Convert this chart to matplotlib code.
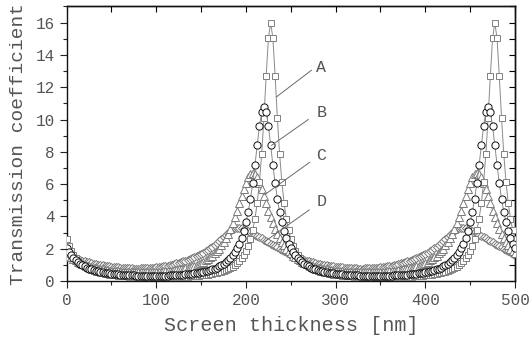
"""
Transmission coefficient vs. screen thickness for four screens (A-D).
Periodic resonances, period ~250 nm.
"""

import numpy as np
import matplotlib
matplotlib.use("Agg")
import matplotlib.pyplot as plt
from matplotlib.ticker import MultipleLocator

# screen thickness grid [nm]
thickness = np.arange(0, 500.1, 2.5)

trans_a = [
    2.61, 2.19, 1.87, 1.61, 1.40, 1.23, 1.10, 0.98, 0.88, 0.80,
    0.73, 0.67, 0.62, 0.58, 0.54, 0.50, 0.47, 0.44, 0.42, 0.40,
    0.38, 0.36, 0.35, 0.33, 0.32, 0.31, 0.30, 0.29, 0.28, 0.28,
    0.27, 0.26, 0.26, 0.25, 0.25, 0.25, 0.25, 0.24, 0.24, 0.24,
    0.24, 0.24, 0.24, 0.24, 0.24, 0.24, 0.25, 0.25, 0.25, 0.25,
    0.26, 0.26, 0.27, 0.28, 0.28, 0.29, 0.30, 0.31, 0.32, 0.33,
    0.35, 0.36, 0.38, 0.40, 0.42, 0.44, 0.47, 0.50, 0.54, 0.58,
    0.62, 0.67, 0.73, 0.80, 0.88, 0.98, 1.10, 1.23, 1.40, 1.61,
    1.87, 2.19, 2.61, 3.15, 3.86, 4.82, 6.12, 7.86, 10.10, 12.70,
    15.02, 16.00, 15.02, 12.70, 10.10, 7.86, 6.12, 4.82, 3.86, 3.15,
    2.61, 2.19, 1.87, 1.61, 1.40, 1.23, 1.10, 0.98, 0.88, 0.80,
    0.73, 0.67, 0.62, 0.58, 0.54, 0.50, 0.47, 0.44, 0.42, 0.40,
    0.38, 0.36, 0.35, 0.33, 0.32, 0.31, 0.30, 0.29, 0.28, 0.28,
    0.27, 0.26, 0.26, 0.25, 0.25, 0.25, 0.25, 0.24, 0.24, 0.24,
    0.24, 0.24, 0.24, 0.24, 0.24, 0.24, 0.25, 0.25, 0.25, 0.25,
    0.26, 0.26, 0.27, 0.28, 0.28, 0.29, 0.30, 0.31, 0.32, 0.33,
    0.35, 0.36, 0.38, 0.40, 0.42, 0.44, 0.47, 0.50, 0.54, 0.58,
    0.62, 0.67, 0.73, 0.80, 0.88, 0.98, 1.10, 1.23, 1.40, 1.61,
    1.87, 2.19, 2.61, 3.15, 3.86, 4.82, 6.12, 7.86, 10.10, 12.70,
    15.02, 16.00, 15.02, 12.70, 10.10, 7.86, 6.12, 4.82, 3.86, 3.15,
    2.61,
]

trans_b = [
    2.02, 1.79, 1.59, 1.42, 1.28, 1.16, 1.06, 0.97, 0.90, 0.83,
    0.77, 0.72, 0.68, 0.64, 0.60, 0.57, 0.54, 0.52, 0.49, 0.47,
    0.45, 0.44, 0.42, 0.41, 0.40, 0.39, 0.38, 0.37, 0.36, 0.35,
    0.35, 0.34, 0.34, 0.34, 0.33, 0.33, 0.33, 0.33, 0.33, 0.33,
    0.33, 0.33, 0.33, 0.34, 0.34, 0.34, 0.35, 0.35, 0.36, 0.37,
    0.38, 0.39, 0.40, 0.41, 0.42, 0.44, 0.45, 0.47, 0.49, 0.52,
    0.54, 0.57, 0.60, 0.64, 0.68, 0.72, 0.77, 0.83, 0.90, 0.97,
    1.06, 1.16, 1.28, 1.42, 1.59, 1.79, 2.02, 2.31, 2.66, 3.09,
    3.63, 4.28, 5.09, 6.06, 7.19, 8.42, 9.59, 10.47, 10.80, 10.47,
    9.59, 8.42, 7.19, 6.06, 5.09, 4.28, 3.63, 3.09, 2.66, 2.31,
    2.02, 1.79, 1.59, 1.42, 1.28, 1.16, 1.06, 0.97, 0.90, 0.83,
    0.77, 0.72, 0.68, 0.64, 0.60, 0.57, 0.54, 0.52, 0.49, 0.47,
    0.45, 0.44, 0.42, 0.41, 0.40, 0.39, 0.38, 0.37, 0.36, 0.35,
    0.35, 0.34, 0.34, 0.34, 0.33, 0.33, 0.33, 0.33, 0.33, 0.33,
    0.33, 0.33, 0.33, 0.34, 0.34, 0.34, 0.35, 0.35, 0.36, 0.37,
    0.38, 0.39, 0.40, 0.41, 0.42, 0.44, 0.45, 0.47, 0.49, 0.52,
    0.54, 0.57, 0.60, 0.64, 0.68, 0.72, 0.77, 0.83, 0.90, 0.97,
    1.06, 1.16, 1.28, 1.42, 1.59, 1.79, 2.02, 2.31, 2.66, 3.09,
    3.63, 4.28, 5.09, 6.06, 7.19, 8.42, 9.59, 10.47, 10.80, 10.47,
    9.59, 8.42, 7.19, 6.06, 5.09, 4.28, 3.63, 3.09, 2.66, 2.31,
    2.02,
]

trans_c = [
    1.71, 1.58, 1.47, 1.37, 1.28, 1.20, 1.13, 1.06, 1.01, 0.96,
    0.91, 0.87, 0.83, 0.80, 0.77, 0.74, 0.72, 0.69, 0.67, 0.65,
    0.64, 0.62, 0.61, 0.60, 0.59, 0.58, 0.57, 0.56, 0.56, 0.55,
    0.55, 0.55, 0.55, 0.55, 0.55, 0.55, 0.55, 0.55, 0.56, 0.56,
    0.57, 0.58, 0.59, 0.60, 0.61, 0.62, 0.64, 0.65, 0.67, 0.69,
    0.72, 0.74, 0.77, 0.80, 0.83, 0.87, 0.91, 0.96, 1.01, 1.06,
    1.13, 1.20, 1.28, 1.37, 1.47, 1.58, 1.71, 1.85, 2.01, 2.20,
    2.41, 2.65, 2.92, 3.22, 3.57, 3.94, 4.36, 4.80, 5.25, 5.69,
    6.09, 6.41, 6.63, 6.70, 6.63, 6.41, 6.09, 5.69, 5.25, 4.80,
    4.36, 3.94, 3.57, 3.22, 2.92, 2.65, 2.41, 2.20, 2.01, 1.85,
    1.71, 1.58, 1.47, 1.37, 1.28, 1.20, 1.13, 1.06, 1.01, 0.96,
    0.91, 0.87, 0.83, 0.80, 0.77, 0.74, 0.72, 0.69, 0.67, 0.65,
    0.64, 0.62, 0.61, 0.60, 0.59, 0.58, 0.57, 0.56, 0.56, 0.55,
    0.55, 0.55, 0.55, 0.55, 0.55, 0.55, 0.55, 0.55, 0.56, 0.56,
    0.57, 0.58, 0.59, 0.60, 0.61, 0.62, 0.64, 0.65, 0.67, 0.69,
    0.72, 0.74, 0.77, 0.80, 0.83, 0.87, 0.91, 0.96, 1.01, 1.06,
    1.13, 1.20, 1.28, 1.37, 1.47, 1.58, 1.71, 1.85, 2.01, 2.20,
    2.41, 2.65, 2.92, 3.22, 3.57, 3.94, 4.36, 4.80, 5.25, 5.69,
    6.09, 6.41, 6.63, 6.70, 6.63, 6.41, 6.09, 5.69, 5.25, 4.80,
    4.36, 3.94, 3.57, 3.22, 2.92, 2.65, 2.41, 2.20, 2.01, 1.85,
    1.71,
]

trans_d = [
    1.62, 1.56, 1.50, 1.45, 1.40, 1.35, 1.31, 1.26, 1.22, 1.18,
    1.15, 1.11, 1.08, 1.05, 1.02, 1.00, 0.97, 0.95, 0.92, 0.90,
    0.88, 0.87, 0.85, 0.84, 0.82, 0.81, 0.80, 0.79, 0.78, 0.78,
    0.77, 0.77, 0.77, 0.78, 0.78, 0.79, 0.79, 0.80, 0.82, 0.83,
    0.85, 0.87, 0.89, 0.91, 0.94, 0.96, 0.99, 1.02, 1.06, 1.09,
    1.13, 1.17, 1.22, 1.26, 1.31, 1.36, 1.42, 1.48, 1.54, 1.61,
    1.68, 1.76, 1.84, 1.93, 2.02, 2.12, 2.23, 2.34, 2.46, 2.58,
    2.71, 2.84, 2.97, 3.10, 3.21, 3.28, 3.30, 3.29, 3.26, 3.21,
    3.16, 3.10, 3.03, 2.96, 2.88, 2.80, 2.72, 2.64, 2.56, 2.48,
    2.40, 2.32, 2.24, 2.16, 2.08, 2.00, 1.92, 1.84, 1.77, 1.69,
    1.62, 1.56, 1.50, 1.45, 1.40, 1.35, 1.31, 1.26, 1.22, 1.18,
    1.15, 1.11, 1.08, 1.05, 1.02, 1.00, 0.97, 0.95, 0.92, 0.90,
    0.88, 0.87, 0.85, 0.84, 0.82, 0.81, 0.80, 0.79, 0.78, 0.78,
    0.77, 0.77, 0.77, 0.78, 0.78, 0.79, 0.79, 0.80, 0.82, 0.83,
    0.85, 0.87, 0.89, 0.91, 0.94, 0.96, 0.99, 1.02, 1.06, 1.09,
    1.13, 1.17, 1.22, 1.26, 1.31, 1.36, 1.42, 1.48, 1.54, 1.61,
    1.68, 1.76, 1.84, 1.93, 2.02, 2.12, 2.23, 2.34, 2.46, 2.58,
    2.71, 2.84, 2.97, 3.10, 3.21, 3.28, 3.30, 3.29, 3.26, 3.21,
    3.16, 3.10, 3.03, 2.96, 2.88, 2.80, 2.72, 2.64, 2.56, 2.48,
    2.40, 2.32, 2.24, 2.16, 2.08, 2.00, 1.92, 1.84, 1.77, 1.69,
    1.62,
]

# curve labels: point on curve, end of leader line, text position
label_names = ["A", "B", "C", "D"]
label_on_curve = [(234, 11.4), (228.5, 8.4), (221, 5.35), (221, 2.45)]
label_line_end = [(273, 13.05), (269.5, 10.0), (271, 7.35), (270.5, 4.4)]
label_text_pos = [(284, 13.2), (284, 10.45), (284, 7.8), (284, 4.95)]

FONT = ["Liberation Mono", "DejaVu Sans Mono"]
TXT = "#555555"

plt.rcParams["font.family"] = FONT

fig = plt.figure(figsize=(5.29, 3.39), dpi=100)
ax = fig.add_axes([0.126, 0.171, 0.8475, 0.81])

common = dict(lw=0.7, color="#8a8a8a", markerfacecolor="white", markeredgewidth=0.7)
ax.plot(thickness, trans_d, marker="D", markersize=4.2, markeredgecolor="#7a7a7a", zorder=2, **common)
ax.plot(thickness, trans_c, marker="^", markersize=5.5, markeredgecolor="#7a7a7a", zorder=3, **common)
ax.plot(thickness, trans_a, marker="s", markersize=4.8, markeredgecolor="#808080", zorder=4, **common)
ax.plot(thickness, trans_b, marker="o", markersize=5.2, markeredgecolor="#111111", zorder=5, **common)

for name, p0, p1, pt in zip(label_names, label_on_curve, label_line_end, label_text_pos):
    ax.plot([p0[0], p1[0]], [p0[1], p1[1]], color="#6a6a6a", lw=0.7, zorder=6)
    ax.text(pt[0], pt[1], name, fontsize=12, color=TXT, ha="center", va="center")

ax.set_xlim(0, 500)
ax.set_ylim(0, 17)

ax.xaxis.set_major_locator(MultipleLocator(100))
ax.xaxis.set_minor_locator(MultipleLocator(50))
ax.yaxis.set_major_locator(MultipleLocator(2))
ax.yaxis.set_minor_locator(MultipleLocator(1))
ax.tick_params(which="both", direction="out", colors="#222222", labelcolor=TXT, labelsize=11.5, width=0.8)
ax.tick_params(which="major", length=5)
ax.tick_params(which="minor", length=3)

top = ax.secondary_xaxis("top")
top.xaxis.set_major_locator(MultipleLocator(50))
top.tick_params(direction="in", length=4, labeltop=False, width=0.8)
right = ax.secondary_yaxis("right")
right.yaxis.set_major_locator(MultipleLocator(1))
right.tick_params(direction="in", length=4, labelright=False, width=0.8)

for sp in list(ax.spines.values()) + [top.spines["top"], right.spines["right"]]:
    sp.set_linewidth(1.0)
    sp.set_color("#111111")

ax.set_xlabel("Screen thickness [nm]", fontsize=14.5, color=TXT, labelpad=6)
ax.set_ylabel("Transmission coefficient", fontsize=14, color=TXT, labelpad=6)

fig.savefig("out.png", dpi=100)
